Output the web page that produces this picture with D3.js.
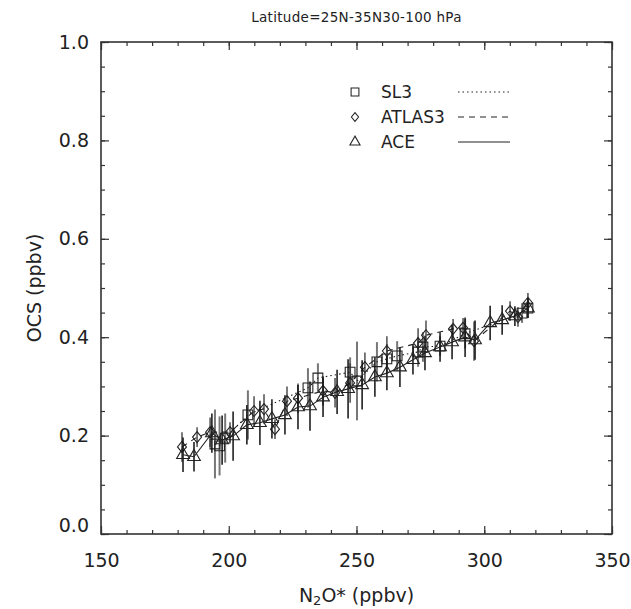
<!DOCTYPE html>
<html>
<head>
<meta charset="utf-8">
<script src="https://cdn.jsdelivr.net/npm/d3@7"></script>
<style>
  body { margin: 0; background: #fff; }
  text { font-family: "DejaVu Sans", "Liberation Sans", sans-serif; fill: #222; }
</style>
</head>
<body>
<div id="vis"></div>
<script>
const FRAME_WIDTH = 631;
const FRAME_HEIGHT = 609;
const MARGINS = {left: 101, right: 19, top: 42, bottom: 75};

// data
const aceX   = [182.1,186.4,193.4,197.4,201.7,207.1,212.2,216.9,222.0,227.1,231.8,236.9,242.4,246.7,252.2,257.2,261.9,267.0,272.1,276.8,282.7,287.4,292.5,296.4,302.3,307.0,312.0,317.1];
const aceY   = [0.161,0.157,0.205,0.191,0.199,0.222,0.226,0.234,0.242,0.258,0.260,0.278,0.289,0.295,0.303,0.319,0.327,0.339,0.354,0.368,0.380,0.390,0.400,0.394,0.429,0.435,0.443,0.459];
const aceErr = [0.035,0.03,0.04,0.05,0.05,0.04,0.045,0.04,0.04,0.045,0.05,0.04,0.045,0.06,0.05,0.04,0.035,0.04,0.03,0.035,0.03,0.035,0.04,0.04,0.035,0.03,0.02,0.02];

const sl3X   = [194.6,196.4,198.6,207.5,231.0,234.9,247.5,250.2,258.0,261.9,265.9,274.1,276.0,282.7,292.5,314.8,317.1];
const sl3Y   = [0.183,0.179,0.195,0.242,0.297,0.317,0.329,0.311,0.350,0.356,0.362,0.370,0.380,0.382,0.407,0.449,0.459];
const sl3Err = [0.07,0.06,0.05,0.05,0.04,0.03,0.03,0.08,0.04,0.03,0.03,0.03,0.03,0.02,0.03,0.02,0.02];

const atlX   = [181.7,187.6,192.7,200.5,209.9,213.8,218.1,222.8,227.1,236.9,241.6,247.5,253.3,261.9,274.1,277.2,287.8,291.7,296.0,310.1,313.2,317.1];
const atlY   = [0.177,0.197,0.207,0.207,0.250,0.254,0.213,0.270,0.276,0.291,0.287,0.307,0.339,0.372,0.388,0.404,0.417,0.419,0.392,0.453,0.441,0.470];
const atlErr = [0.03,0.02,0.03,0.02,0.03,0.03,0.02,0.03,0.03,0.03,0.03,0.04,0.03,0.03,0.03,0.03,0.02,0.02,0.04,0.02,0.02,0.02];

const legendNames = ["SL3", "ATLAS3", "ACE"];

const VIS_WIDTH = FRAME_WIDTH - MARGINS.left - MARGINS.right;
const VIS_HEIGHT = FRAME_HEIGHT - MARGINS.top - MARGINS.bottom;

const svg = d3.select("#vis").append("svg")
    .attr("width", FRAME_WIDTH)
    .attr("height", FRAME_HEIGHT);

const X_SCALE = d3.scaleLinear().domain([150, 350]).range([MARGINS.left, MARGINS.left + VIS_WIDTH]);
const Y_SCALE = d3.scaleLinear().domain([0, 1]).range([MARGINS.top + VIS_HEIGHT, MARGINS.top]);

// axes: major ticks labelled, minor ticks inward, mirrored on top/right
const xMajor = d3.range(150, 351, 50);
const xMinor = d3.range(150, 351, 10);
const yMajor = d3.range(0, 1.01, 0.2);
const yMinor = d3.range(0, 1.01, 0.05);

function inward(axis, len) {
  return axis.tickSizeInner(-len).tickSizeOuter(0).tickPadding(10);
}
const bottomY = MARGINS.top + VIS_HEIGHT;
const rightX = MARGINS.left + VIS_WIDTH;

svg.append("g").attr("transform", `translate(0,${bottomY})`)
  .call(inward(d3.axisBottom(X_SCALE), 4).tickValues(xMinor).tickFormat(""));
svg.append("g").attr("class", "xlab").attr("transform", `translate(0,${bottomY})`)
  .call(inward(d3.axisBottom(X_SCALE), 8).tickValues(xMajor).tickFormat(d3.format("d")).tickPadding(20));
svg.append("g").attr("transform", `translate(0,${MARGINS.top})`)
  .call(inward(d3.axisTop(X_SCALE), 4).tickValues(xMinor).tickFormat(""));
svg.append("g").attr("transform", `translate(0,${MARGINS.top})`)
  .call(inward(d3.axisTop(X_SCALE), 8).tickValues(xMajor).tickFormat(""));

svg.append("g").attr("transform", `translate(${MARGINS.left},0)`)
  .call(inward(d3.axisLeft(Y_SCALE), 4).tickValues(yMinor).tickFormat(""));
svg.append("g").attr("class", "ylab").attr("transform", `translate(${MARGINS.left},0)`)
  .call(inward(d3.axisLeft(Y_SCALE), 8).tickValues(yMajor).tickFormat(d3.format(".1f")).tickPadding(12));
svg.append("g").attr("transform", `translate(${rightX},0)`)
  .call(inward(d3.axisRight(Y_SCALE), 4).tickValues(yMinor).tickFormat(""));
svg.append("g").attr("transform", `translate(${rightX},0)`)
  .call(inward(d3.axisRight(Y_SCALE), 8).tickValues(yMajor).tickFormat(""));

svg.selectAll(".tick line").attr("stroke", "#333").attr("stroke-width", 1.2);
svg.selectAll(".tick text").style("font-size", "19px").attr("fill", "#222");
// the 0.0 label sits a little above the bottom axis in the original
svg.selectAll(".ylab .tick text").filter(d => d === 0).attr("dy", "-0.15em");

// frame
svg.append("rect")
  .attr("x", MARGINS.left).attr("y", MARGINS.top)
  .attr("width", VIS_WIDTH).attr("height", VIS_HEIGHT)
  .attr("fill", "none").attr("stroke", "#333").attr("stroke-width", 1.6);
svg.selectAll(".domain").remove();

// titles
svg.append("text").attr("x", (MARGINS.left + rightX) / 2).attr("y", 22)
  .attr("text-anchor", "middle").style("font-size", "13.5px").style("letter-spacing", "0.3px")
  .text("Latitude=25N-35N30-100 hPa");

const xt = svg.append("text").attr("x", (MARGINS.left + rightX) / 2).attr("y", 602)
  .attr("text-anchor", "middle").style("font-size", "19px");
xt.append("tspan").text("N");
xt.append("tspan").attr("dy", 3).style("font-size", "13px").text("2");
xt.append("tspan").attr("dy", -3).text("O*  (ppbv)");

svg.append("text").attr("transform", `translate(41,${(MARGINS.top + bottomY) / 2}) rotate(-90)`)
  .attr("text-anchor", "middle").style("font-size", "19px").text("OCS  (ppbv)");

// series
const series = [
  {name: legendNames[0], x: sl3X, y: sl3Y, e: sl3Err, dash: "1.5,3", sym: d3.symbolSquare, size: 95, barColor: "#777", barWidth: 2},
  {name: legendNames[1], x: atlX, y: atlY, e: atlErr, dash: "6,5", sym: "diamond", size: 0, barColor: "#333", barWidth: 1.3},
  {name: legendNames[2], x: aceX, y: aceY, e: aceErr, dash: null, sym: d3.symbolTriangle, size: 70, barColor: "#111", barWidth: 1.5}
];

function markerPath(s) {
  if (s.sym === "diamond") return "M0,-5.5L4.5,0L0,5.5L-4.5,0Z";
  return d3.symbol().type(s.sym).size(s.size)();
}

const line = d3.line().x(d => X_SCALE(d[0])).y(d => Y_SCALE(d[1]));

series.forEach(s => {
  const pts = s.x.map((v, i) => [v, s.y[i], s.e[i]]);
  const g = svg.append("g");
  g.selectAll("line.err").data(pts).enter().append("line")
    .attr("x1", d => X_SCALE(d[0])).attr("x2", d => X_SCALE(d[0]))
    .attr("y1", d => Y_SCALE(d[1] - d[2])).attr("y2", d => Y_SCALE(d[1] + d[2]))
    .attr("stroke", s.barColor).attr("stroke-width", s.barWidth);
  g.append("path").datum(pts).attr("d", line)
    .attr("fill", "none").attr("stroke", "#222").attr("stroke-width", 1.1)
    .attr("stroke-dasharray", s.dash);
  g.selectAll("path.pt").data(pts).enter().append("path")
    .attr("class", "pt")
    .attr("d", markerPath(s))
    .attr("transform", d => `translate(${X_SCALE(d[0])},${Y_SCALE(d[1])})`)
    .attr("fill", "none").attr("stroke", "#222").attr("stroke-width", 1.1);
});

// legend (markers drawn a bit smaller than in the plot)
const legend = svg.append("g");
series.forEach((s, i) => {
  const yy = 92 + i * 25;
  legend.append("path").attr("d", markerPath(s))
    .attr("transform", `translate(355,${yy}) scale(0.8)`)
    .attr("fill", "none").attr("stroke", "#222").attr("stroke-width", 1.3);
  legend.append("text").attr("x", 381).attr("y", yy + 6)
    .style("font-size", "17px").text(s.name);
  legend.append("line").attr("x1", 458).attr("x2", 510).attr("y1", yy).attr("y2", yy)
    .attr("stroke", "#222").attr("stroke-width", 1.1).attr("stroke-dasharray", s.dash);
});
</script>
</body>
</html>
